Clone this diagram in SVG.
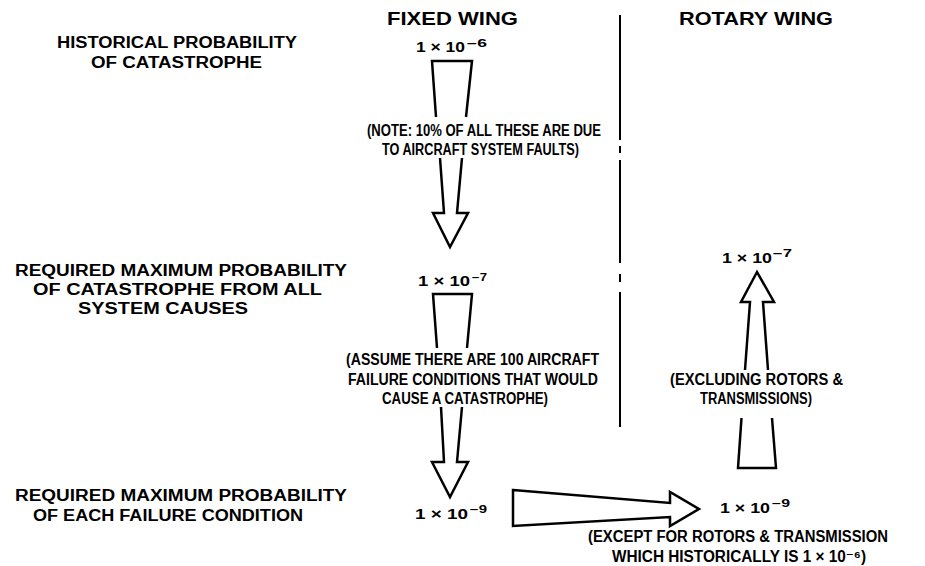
<svg xmlns="http://www.w3.org/2000/svg" width="925" height="566" viewBox="0 0 925 566">
<style>
text{font-family:"Liberation Sans",Arial,"DejaVu Sans",sans-serif;font-weight:bold;fill:#000}
.hd{font-size:18px}
.lb{font-size:16px}
.nt{font-size:16px}
.nm{font-size:14px}
.sp{font-size:10px}
.ar{fill:none;stroke:#000;stroke-width:2.5;stroke-linejoin:miter}
.dv{stroke:#000;stroke-width:2}
</style>
<rect width="925" height="566" fill="#fff"/>
<g id="headers">
<text class="hd" x="387" y="25" textLength="131" lengthAdjust="spacingAndGlyphs">FIXED WING</text>
<text class="hd" x="679" y="25" textLength="154" lengthAdjust="spacingAndGlyphs">ROTARY WING</text>
</g>
<g id="divider">
<line class="dv" x1="620" y1="15" x2="620" y2="140"/>
<line class="dv" x1="620" y1="146" x2="620" y2="153"/>
<line class="dv" x1="620" y1="160" x2="620" y2="263"/>
<line class="dv" x1="620" y1="274" x2="620" y2="282"/>
<line class="dv" x1="620" y1="292" x2="620" y2="427"/>
</g>
<g id="label-historical">
<text class="lb" x="57" y="48" textLength="240" lengthAdjust="spacingAndGlyphs">HISTORICAL PROBABILITY</text>
<text class="lb" x="91" y="68" textLength="171" lengthAdjust="spacingAndGlyphs">OF CATASTROPHE</text>
</g>
<g id="label-required-all">
<text class="lb" x="15" y="276" textLength="332" lengthAdjust="spacingAndGlyphs">REQUIRED MAXIMUM PROBABILITY</text>
<text class="lb" x="33" y="295" textLength="289" lengthAdjust="spacingAndGlyphs">OF CATASTROPHE FROM ALL</text>
<text class="lb" x="78" y="314" textLength="170" lengthAdjust="spacingAndGlyphs">SYSTEM CAUSES</text>
</g>
<g id="label-required-each">
<text class="lb" x="15" y="501" textLength="332" lengthAdjust="spacingAndGlyphs">REQUIRED MAXIMUM PROBABILITY</text>
<text class="lb" x="33" y="521" textLength="270" lengthAdjust="spacingAndGlyphs">OF EACH FAILURE CONDITION</text>
</g>
<g id="fixed-1e-6">
<text class="nm" x="416" y="52" textLength="49" lengthAdjust="spacingAndGlyphs">1 × 10</text>
<text class="sp" x="467" y="47" textLength="20" lengthAdjust="spacingAndGlyphs">−6</text>
</g>
<g id="fixed-1e-7">
<text class="nm" x="418" y="286" textLength="52" lengthAdjust="spacingAndGlyphs">1 × 10</text>
<text class="sp" x="472" y="281" textLength="15" lengthAdjust="spacingAndGlyphs">−7</text>
</g>
<g id="fixed-1e-9">
<text class="nm" x="415" y="519" textLength="53" lengthAdjust="spacingAndGlyphs">1 × 10</text>
<text class="sp" x="470" y="513" textLength="17" lengthAdjust="spacingAndGlyphs">−9</text>
</g>
<g id="rotary-1e-7">
<text class="nm" x="722" y="263" textLength="50" lengthAdjust="spacingAndGlyphs">1 × 10</text>
<text class="sp" x="773" y="257" textLength="19" lengthAdjust="spacingAndGlyphs">−7</text>
</g>
<g id="rotary-1e-9">
<text class="nm" x="720" y="513" textLength="50" lengthAdjust="spacingAndGlyphs">1 × 10</text>
<text class="sp" x="772" y="507" textLength="18" lengthAdjust="spacingAndGlyphs">−9</text>
</g>
<g id="note-10pct">
<text class="nt" x="367" y="136" textLength="234" lengthAdjust="spacingAndGlyphs">(NOTE: 10% OF ALL THESE ARE DUE</text>
<text class="nt" x="382" y="155" textLength="197" lengthAdjust="spacingAndGlyphs">TO AIRCRAFT SYSTEM FAULTS)</text>
</g>
<g id="note-100">
<text class="nt" x="346" y="365" textLength="253" lengthAdjust="spacingAndGlyphs">(ASSUME THERE ARE 100 AIRCRAFT</text>
<text class="nt" x="348" y="385" textLength="250" lengthAdjust="spacingAndGlyphs">FAILURE CONDITIONS THAT WOULD</text>
<text class="nt" x="382" y="404" textLength="166" lengthAdjust="spacingAndGlyphs">CAUSE A CATASTROPHE)</text>
</g>
<g id="note-excluding">
<text class="nt" x="670" y="385" textLength="173" lengthAdjust="spacingAndGlyphs">(EXCLUDING ROTORS &amp;</text>
<text class="nt" x="700" y="404" textLength="112" lengthAdjust="spacingAndGlyphs">TRANSMISSIONS)</text>
</g>
<g id="note-except">
<text class="nt" x="588" y="542" textLength="300" lengthAdjust="spacingAndGlyphs">(EXCEPT FOR ROTORS &amp; TRANSMISSION</text>
<text class="nt" x="612" y="562" font-size="15" textLength="254" lengthAdjust="spacingAndGlyphs">WHICH HISTORICALLY IS 1 × 10⁻⁶)</text>
</g>
<g id="connectors">
<polyline class="ar" points="436,117 432,61 472,61 466,117"/>
<polyline class="ar" points="440,158 444,213 433,213 450,247 468,213 457,213 462,158"/>
<polyline class="ar" points="437,348 433,294 472,294 467,348"/>
<polyline class="ar" points="441,407 444,462 432,462 450,497 468,462 457,462 462,407"/>
<polygon class="ar" points="513,490 670,503 670,492 699,509 670,526 670,517 513,526"/>
<polyline class="ar" points="745,370 750,302 741,302 757,272 774,302 763,302 768,370"/>
<polyline class="ar" points="741.5,418 738,468 776,468 772,418"/>
</g>
</svg>
